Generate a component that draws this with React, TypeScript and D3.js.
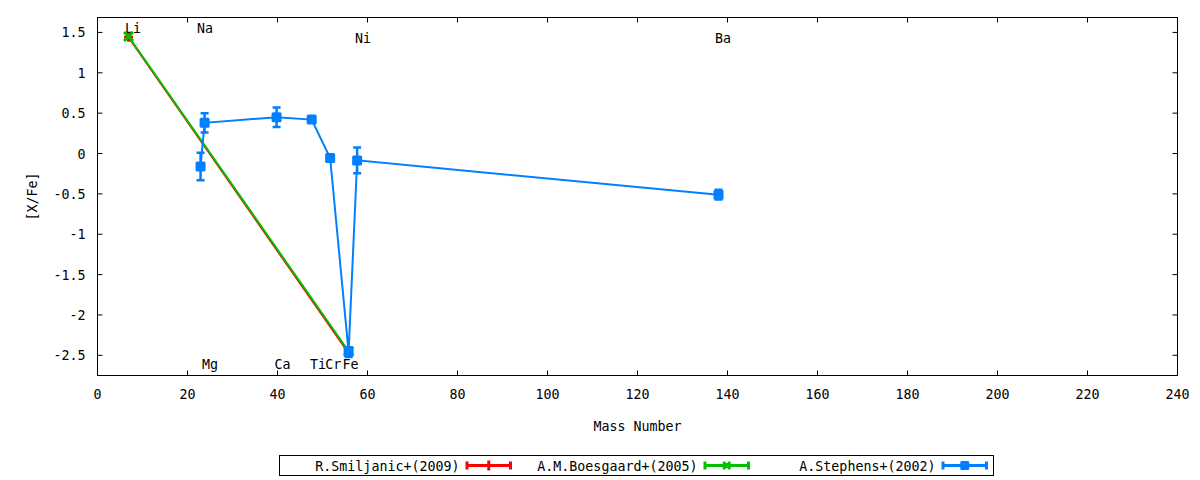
import * as d3 from 'd3'

// [X/Fe] vs mass number, three literature sources
const smiljanicMass = [6.9, 55.8]
const smiljanicXFe = [1.44, -2.47]
const smiljanicErr = [0, 0]

const boesgaardMass = [6.9, 55.8]
const boesgaardXFe = [1.45, -2.45]
const boesgaardErr = [0, 0]

const stephensMass = [22.9, 23.8, 39.8, 47.6, 51.7, 55.8, 57.7, 138.0]
const stephensXFe = [-0.16, 0.38, 0.45, 0.42, -0.055, -2.46, -0.085, -0.51]
const stephensErr = [0.17, 0.12, 0.12, 0.03, 0.04, 0.06, 0.16, 0.06]

const elementNames = ['Li', 'Na', 'Ni', 'Ba', 'Mg', 'Ca', 'Ti', 'Cr', 'Fe']
const elementX = [7.9, 23.9, 59.0, 139.0, 25.0, 41.1, 49.0, 52.4, 56.2]
const elementY = [1.56, 1.56, 1.435, 1.435, -2.6, -2.6, -2.6, -2.6, -2.6]

const xTicks = [0, 20, 40, 60, 80, 100, 120, 140, 160, 180, 200, 220, 240]
const yTicks = [1.5, 1, 0.5, 0, -0.5, -1, -1.5, -2, -2.5]

const seriesNames = ['R.Smiljanic+(2009)', 'A.M.Boesgaard+(2005)', 'A.Stephens+(2002)']
const seriesColors = ['#ff0000', '#00c000', '#0080ff']

const W = 1200
const H = 480
const left = 97.5
const right = 1177.5
const top = 17.5
const bottom = 375.5
const font = "'DejaVu Sans Mono', monospace"
const fs = 14.8
const sx = 0.9 // glyphs look a little condensed in the original

const x = d3.scaleLinear().domain([0, 240]).range([left, right])
const y = d3.scaleLinear().domain([-2.75, 1.685]).range([bottom, top])

function Txt({ x, y, anchor = 'start', rot = 0, children }: { x: number; y: number; anchor?: string; rot?: number; children: string }) {
  return (
    <text transform={`translate(${x},${y}) rotate(${rot}) scale(${sx},1)`} textAnchor={anchor}>{children}</text>
  )
}

function Marker({ kind, cx, cy, color, size }: { kind: number; cx: number; cy: number; color: string; size: number }) {
  const h = size / 2
  if (kind === 0) {
    return <path d={`M${cx - h},${cy}H${cx + h}M${cx},${cy - h}V${cy + h}`} stroke={color} strokeWidth={3} />
  }
  if (kind === 1) {
    return <path d={`M${cx - h},${cy - h}L${cx + h},${cy + h}M${cx - h},${cy + h}L${cx + h},${cy - h}`} stroke={color} strokeWidth={3} />
  }
  return <rect x={cx - h} y={cy - h} width={size} height={size} rx={1.5} fill={color} />
}

function Series({ mass, vals, errs, color, kind }: { mass: number[]; vals: number[]; errs: number[]; color: string; kind: number }) {
  const line = d3.line<number>().x((_, i) => x(mass[i])).y(v => y(v))
  return (
    <g>
      <path d={line(vals) || ''} fill="none" stroke={color} strokeWidth={2} />
      {vals.map((v, i) => {
        const px = x(mass[i])
        const e = errs[i]
        if (!e) return null
        const y1 = y(v + e)
        const y2 = y(v - e)
        return (
          <path key={'e' + i} d={`M${px},${y1}V${y2}M${px - 4},${y1}H${px + 4}M${px - 4},${y2}H${px + 4}`}
            stroke={color} strokeWidth={2.5} fill="none" />
        )
      })}
      {vals.map((v, i) => (
        <Marker key={'m' + i} kind={kind} cx={x(mass[i])} cy={y(v)} color={color} size={kind === 2 ? 10 : 9} />
      ))}
    </g>
  )
}

export default function App() {
  const legendLeft = 279.5
  const legendY = 465.5
  return (
    <svg width={W} height={H} viewBox={`0 0 ${W} ${H}`}
      style={{ position: 'absolute', left: 0, top: 0, background: '#fff' }}
      fontFamily={font} fontSize={fs}>
      <rect x={0} y={0} width={W} height={H} fill="#fff" />

      {/* ticks, mirrored */}
      {xTicks.map(t => (
        <g key={'xt' + t}>
          <line x1={x(t)} x2={x(t)} y1={bottom} y2={bottom - 5} stroke="#000" />
          <line x1={x(t)} x2={x(t)} y1={top} y2={top + 5} stroke="#000" />
          <Txt x={x(t)} y={399} anchor="middle">{String(t)}</Txt>
        </g>
      ))}
      {yTicks.map(t => (
        <g key={'yt' + t}>
          <line x1={left} x2={left + 5} y1={y(t)} y2={y(t)} stroke="#000" />
          <line x1={right} x2={right - 5} y1={y(t)} y2={y(t)} stroke="#000" />
          <Txt x={85.5} y={y(t) + 5} anchor="end">{String(t)}</Txt>
        </g>
      ))}

      {/* element labels */}
      {elementNames.map((n, i) => (
        <Txt key={n} x={x(elementX[i])} y={y(elementY[i]) + 5.5} anchor="middle">{n}</Txt>
      ))}

      <Series mass={smiljanicMass} vals={smiljanicXFe} errs={smiljanicErr} color={seriesColors[0]} kind={0} />
      <Series mass={boesgaardMass} vals={boesgaardXFe} errs={boesgaardErr} color={seriesColors[1]} kind={1} />
      <Series mass={stephensMass} vals={stephensXFe} errs={stephensErr} color={seriesColors[2]} kind={2} />

      <rect x={left} y={top} width={right - left} height={bottom - top} fill="none" stroke="#000" />

      <Txt x={(left + right) / 2} y={430.5} anchor="middle">Mass Number</Txt>
      <Txt x={37} y={196.5} rot={-90} anchor="middle">[X/Fe]</Txt>

      {/* legend */}
      <rect x={legendLeft} y={455.5} width={714} height={20} fill="none" stroke="#000" />
      {seriesNames.map((n, i) => {
        const te = legendLeft + 180 + i * 238
        const s0 = te + 7.5
        const s1 = te + 51
        const mid = (s0 + s1) / 2
        return (
          <g key={n}>
            <Txt x={te} y={legendY + 5} anchor="end">{n}</Txt>
            <path d={`M${s0},${legendY}H${s1}M${s0},${legendY - 4}V${legendY + 4}M${s1},${legendY - 4}V${legendY + 4}`}
              stroke={seriesColors[i]} strokeWidth={3} fill="none" />
            {i === 0 ? (
              <path d={`M${mid},${legendY - 5}V${legendY + 5}`} stroke={seriesColors[i]} strokeWidth={3} />
            ) : (
              <Marker kind={i} cx={mid} cy={legendY} color={seriesColors[i]} size={i === 2 ? 9 : 7} />
            )}
          </g>
        )
      })}
    </svg>
  )
}
